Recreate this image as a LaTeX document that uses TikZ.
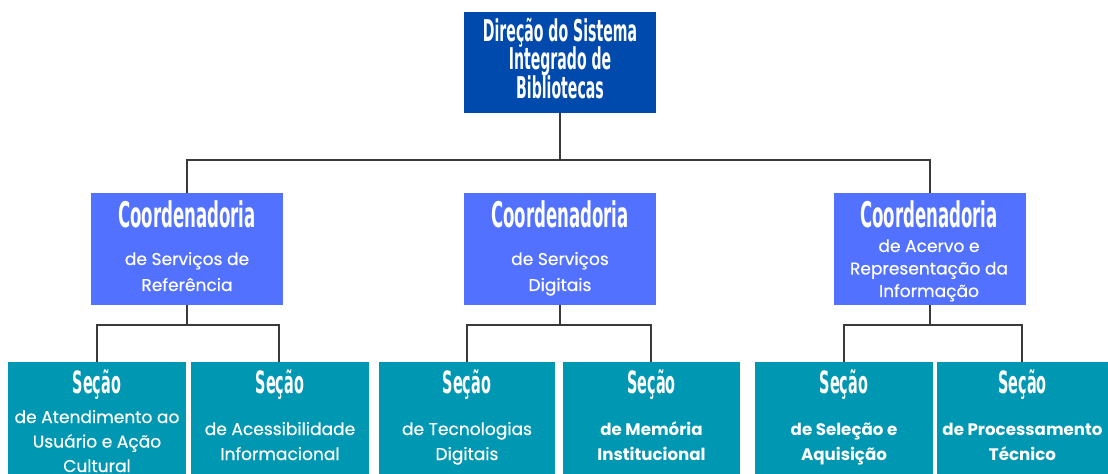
\documentclass[tikz,border=0pt]{standalone}
\usepackage{fontspec}
\setmainfont{Poppins}
\newfontfamily\headfont[FakeStretch=0.47]{DejaVu Sans}
\newfontfamily\medfont[FakeBold=0.5]{Poppins}
\definecolor{topblue}{HTML}{004AAD}
\definecolor{coordblue}{HTML}{5271FF}
\definecolor{secteal}{HTML}{0097B2}
\definecolor{linegray}{HTML}{3A3A3A}
\begin{document}
\begin{tikzpicture}[x=0.75pt,y=-0.75pt,
  boxbase/.style={inner sep=0pt, outer sep=0pt, anchor=north west},
  topbox/.style={boxbase, fill=topblue, minimum width=144pt, minimum height=75.75pt},
  coordbox/.style={boxbase, fill=coordblue, minimum width=144pt, minimum height=84pt},
  secbox/.style={boxbase, fill=secteal, minimum height=97.5pt},
  toptxt/.style={anchor=base, inner sep=0pt, text=white, font=\headfont\bfseries\fontsize{22.5}{24}\selectfont},
  coordhead/.style={anchor=base, inner sep=0pt, text=white, font=\headfont\bfseries\fontsize{26.5}{28}\selectfont},
  sechead/.style={anchor=base, inner sep=0pt, text=white, font=\headfont\bfseries\fontsize{23}{23}\selectfont},
  bodytxt/.style={anchor=base, inner sep=0pt, text=white, font=\medfont\fontsize{12.8}{15}\selectfont},
  boldtxt/.style={bodytxt, font=\bfseries\fontsize{12.5}{15}\selectfont},
  conn/.style={draw=linegray, line width=1.1pt}
]
\useasboundingbox (0,0) rectangle (1108,474);
\clip (0,0) rectangle (1108,474);

% boxes
\node[topbox] (dir) at (464,12) {};
\node[coordbox] (c1) at (91,193) {};
\node[coordbox] (c2) at (464,193) {};
\node[coordbox] (c3) at (834,193) {};
\node[secbox, minimum width=133.5pt] (s1) at (8,362) {};
\node[secbox, minimum width=133.5pt] (s2) at (191,362) {};
\node[secbox, minimum width=132pt] (s3) at (379,362) {};
\node[secbox, minimum width=132.75pt] (s4) at (563,362) {};
\node[secbox, minimum width=133.5pt] (s5) at (755,362) {};
\node[secbox, minimum width=133.5pt] (s6) at (937,362) {};

% connectors
\coordinate (bus0) at (560,160);
\draw[conn] (dir.south) -- (bus0);
\draw[conn] (c1.north) -- ++(0,-33) -| (c3.north);
\draw[conn] (c1.south) -- ++(0,20) coordinate (b1);
\draw[conn] (s1.north -| 97,0) |- (b1) -| (s2.north -| 279,0);
\draw[conn] (c2.south) -- ++(0,20) coordinate (b2);
\draw[conn] (s3.north -| 467,0) |- (b2) -| (s4.north -| 651,0);
\draw[conn] (c3.south) -- ++(0,20) coordinate (b3);
\draw[conn] (s5.north -| 844,0) |- (b3) -| (s6.north -| 1022,0);

% top text
\node[toptxt] (t1) at (560,41.5) {Direção do Sistema};
\node[toptxt] (t2) at (560,70) {Integrado de};
\node[toptxt] (t3) at (560,98.5) {Bibliotecas};

% coordination texts
\node[coordhead] (h1) at (187,228) {Coordenadoria};
\node[bodytxt] (c1a) at (187,265) {de Serviços de};
\node[bodytxt] (c1b) at (187,291) {Referência};
\node[coordhead] (h2) at (560,228) {Coordenadoria};
\node[bodytxt] (c2a) at (560,265) {de Serviços};
\node[bodytxt] (c2b) at (560,291) {Digitais};
\node[coordhead] (h3) at (929,228) {Coordenadoria};
\node[bodytxt] (c3a) at (929,252) {de Acervo e};
\node[bodytxt] (c3b) at (929,274.5) {Representação da};
\node[bodytxt] (c3c) at (929,297) {Informação};

% section texts
\node[sechead] (sh1) at (97,393) {Seção};
\node[bodytxt] (s1a) at (97,423) {de Atendimento ao};
\node[bodytxt] (s1b) at (97,447.5) {Usuário e Ação};
\node[bodytxt] (s1c) at (97,472) {Cultural};
\node[sechead] (sh2) at (280,393) {Seção};
\node[bodytxt] (s2a) at (280,435) {de Acessibilidade};
\node[bodytxt] (s2b) at (280,460) {Informacional};
\node[sechead] (sh3) at (467,393) {Seção};
\node[bodytxt] (s3a) at (467,435) {de Tecnologias};
\node[bodytxt] (s3b) at (467,460) {Digitais};
\node[sechead] (sh4) at (651.5,393) {Seção};
\node[boldtxt] (s4a) at (651.5,435) {de Memória};
\node[boldtxt] (s4b) at (651.5,460) {Institucional};
\node[sechead] (sh5) at (844,393) {Seção};
\node[boldtxt] (s5a) at (844,435) {de Seleção e};
\node[boldtxt] (s5b) at (844,460) {Aquisição};
\node[sechead] (sh6) at (1022.5,393) {Seção};
\node[boldtxt] (s6a) at (1022.5,435) {de Processamento};
\node[boldtxt] (s6b) at (1022.5,460) {Técnico};
\end{tikzpicture}
\end{document}
